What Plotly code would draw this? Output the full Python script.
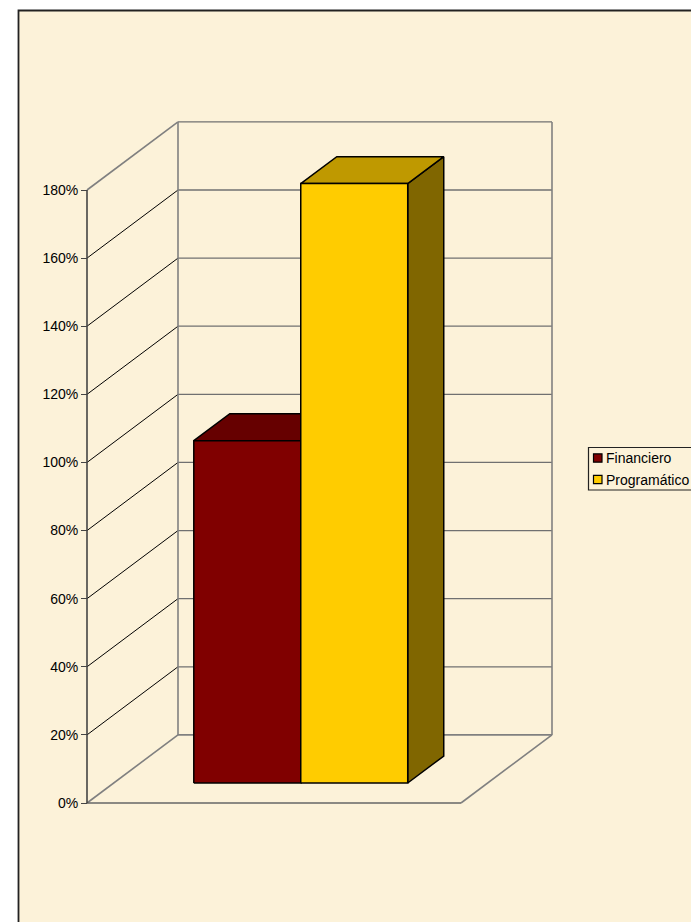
import plotly.graph_objects as go

categories = ["Financiero", "Programático"]
values = [100.5, 176]
front_colors = ["#800000", "#FFCC00"]
top_colors = ["#660000", "#BF9900"]
side_colors = ["#400000", "#806600"]
ticks = [0, 20, 40, 60, 80, 100, 120, 140, 160, 180]
tick_labels = ["0%", "20%", "40%", "60%", "80%", "100%", "120%", "140%", "160%", "180%"]

W, H = 691, 922
ORIGIN_X, ORIGIN_Y = 87, 803
PX_PER_X = 374
PX_PER_V = 613 / 180
# oblique projection: full depth of the chart box, in axis units
DX, DY = 91 / 374, 20.0
GAP, BAR = 0.214, 0.286
D0, D1 = 0.294, 0.69


def P(x, v, d):
    return x + DX * d, v + DY * d


def poly(pts):
    pp = [P(*p) for p in pts]
    pp.append(pp[0])
    return [p[0] for p in pp], [p[1] for p in pp]


def add_lines(fig, segs, color, width):
    xs, ys = [], []
    for a, b in segs:
        pa, pb = P(*a), P(*b)
        xs += [pa[0], pb[0], None]
        ys += [pa[1], pb[1], None]
    fig.add_trace(go.Scatter(x=xs, y=ys, mode="lines", line=dict(color=color, width=width),
                             hoverinfo="skip", showlegend=False))


def add_face(fig, pts, fill):
    x, y = poly(pts)
    fig.add_trace(go.Scatter(x=x, y=y, mode="lines", fill="toself", fillcolor=fill,
                             line=dict(color="#000000", width=1.5),
                             hoverinfo="skip", showlegend=False))


fig = go.Figure()
top = ticks[-1]
# back wall gridlines and side wall diagonals
add_lines(fig, [((0, t, 1), (1, t, 1)) for t in ticks[1:]], "#707070", 1.3)
add_lines(fig, [((0, t, 0), (0, t, 1)) for t in ticks[1:-1]], "#000000", 1.0)
add_lines(fig, [((0, 0, 0), (0, 0, 1)), ((0, top, 0), (0, top, 1)),
                ((0, 0, 1), (0, top, 1)), ((1, 0, 1), (1, top, 1)),
                ((0, 0, 1), (1, 0, 1)), ((1, 0, 0), (1, 0, 1))], "#808080", 1.6)
# front axis lines
add_lines(fig, [((0, 0, 0), (1, 0, 0))], "#666666", 1.6)
add_lines(fig, [((0, 0, 0), (0, top, 0))], "#444444", 1.6)

for i, v in enumerate(values):
    x0 = GAP + i * BAR
    x1 = x0 + BAR
    add_face(fig, [(x1, 0, D0), (x1, 0, D1), (x1, v, D1), (x1, v, D0)], side_colors[i])
    add_face(fig, [(x0, v, D0), (x1, v, D0), (x1, v, D1), (x0, v, D1)], top_colors[i])
    add_face(fig, [(x0, 0, D0), (x1, 0, D0), (x1, v, D0), (x0, v, D0)], front_colors[i])

BG = "#FCF2D9"
fx = lambda px: px / W
fy = lambda py: 1 - py / H
shapes = [
    dict(type="rect", xref="paper", yref="paper", layer="below",
         x0=fx(18.5), x1=fx(W + 10), y0=fy(H + 10), y1=fy(10.5),
         fillcolor=BG, line=dict(color="#222222", width=1.8)),
    dict(type="rect", xref="paper", yref="paper", layer="above",
         x0=fx(588.5), x1=fx(W + 3), y0=fy(490), y1=fy(447.5),
         fillcolor=BG, line=dict(color="#222222", width=1.2)),
]
annotations = []
for i, name in enumerate(categories):
    cy = 458 + i * 21.5
    shapes.append(dict(type="rect", xref="paper", yref="paper", layer="above",
                       x0=fx(593.5), x1=fx(602), y0=fy(cy + 4.2), y1=fy(cy - 4.2),
                       fillcolor=front_colors[i], line=dict(color="#000000", width=1.2)))
    annotations.append(dict(text=name, xref="paper", yref="paper", x=fx(603.5), y=fy(cy),
                            xanchor="left", yanchor="middle", showarrow=False,
                            font=dict(family="Liberation Sans", size=14, color="#000000")))

fig.update_layout(
    width=W, height=H, autosize=False,
    margin=dict(l=0, r=0, t=0, b=0, pad=0),
    paper_bgcolor="#FFFFFF", plot_bgcolor="rgba(0,0,0,0)",
    showlegend=False, shapes=shapes, annotations=annotations,
    xaxis=dict(range=[-ORIGIN_X / PX_PER_X, (W - ORIGIN_X) / PX_PER_X], domain=[0, 1],
               visible=False, fixedrange=True),
    yaxis=dict(range=[-(H - ORIGIN_Y) / PX_PER_V, ORIGIN_Y / PX_PER_V], domain=[0, 1],
               anchor="free", position=ORIGIN_X / W,
               tickmode="array", tickvals=ticks, ticktext=tick_labels,
               showgrid=False, zeroline=False, showline=False, fixedrange=True,
               ticks="outside", ticklen=6, tickwidth=1.3, tickcolor="#444444",
               tickfont=dict(family="Liberation Sans", size=14, color="#000000")),
)
fig.write_html("out.html", config=dict(displayModeBar=False),
               post_script="document.body.style.margin='0';document.body.style.overflow='hidden';")
